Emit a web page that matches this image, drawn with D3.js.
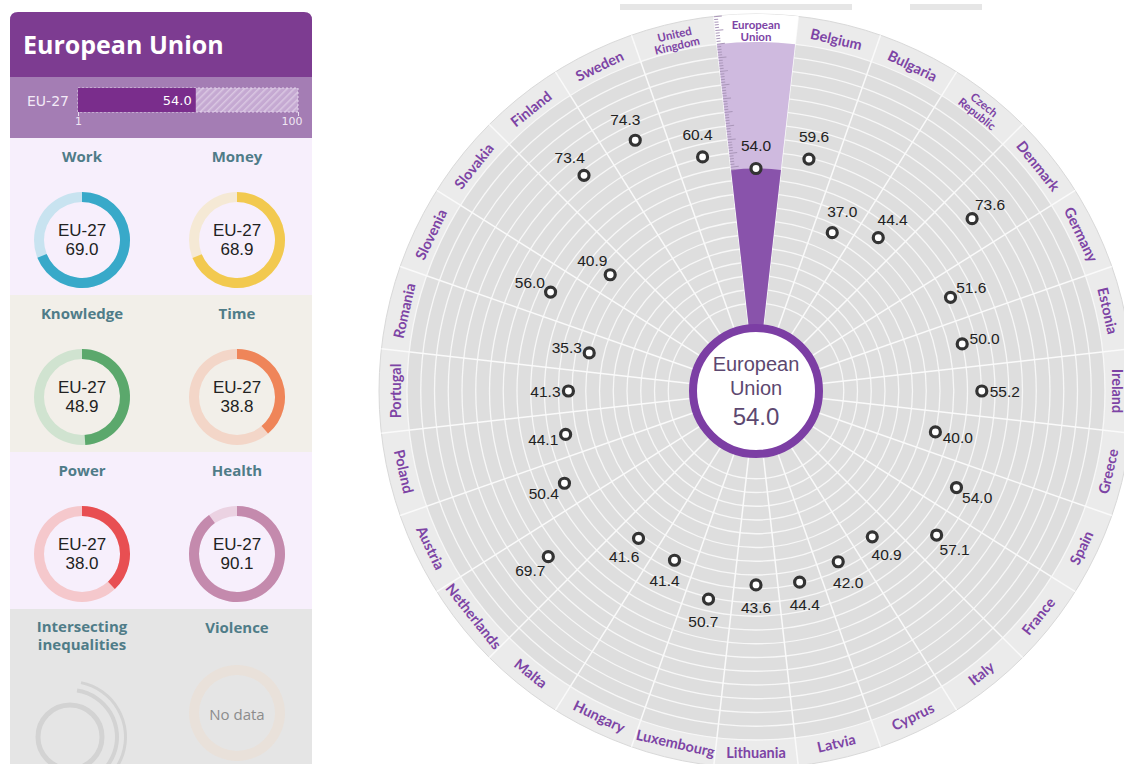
<!DOCTYPE html>
<html>
<head>
<meta charset="utf-8">
<script src="https://cdn.jsdelivr.net/npm/d3@7"></script>
<style>
  body { margin: 0; background: #fff; }
  svg { display: block; font-family: 'Liberation Sans', Arial, sans-serif; }
</style>
</head>
<body>
<svg id="chart" width="1124" height="764"></svg>
<script>
// ------------------- Data -------------------
const countries = ['European Union', 'Belgium', 'Bulgaria', 'Czech Republic', 'Denmark', 'Germany',
  'Estonia', 'Ireland', 'Greece', 'Spain', 'France', 'Italy', 'Cyprus', 'Latvia', 'Lithuania',
  'Luxembourg', 'Hungary', 'Malta', 'Netherlands', 'Austria', 'Poland', 'Portugal', 'Romania',
  'Slovenia', 'Slovakia', 'Finland', 'Sweden', 'United Kingdom'];
const countryScores = [54.0, 59.6, 37.0, 44.4, 73.6, 51.6, 50.0, 55.2, 40.0, 54.0, 57.1, 40.9, 42.0,
  44.4, 43.6, 50.7, 41.4, 41.6, 69.7, 50.4, 44.1, 41.3, 35.3, 56.0, 40.9, 73.4, 74.3, 60.4];

const domainNames = ['Work', 'Money', 'Knowledge', 'Time', 'Power', 'Health'];
const domainScores = [69.0, 68.9, 48.9, 38.8, 38.0, 90.1];
const emptyDomains = ['Intersecting inequalities', 'Violence'];

const indexTicks = [1, 100];
const aggregateLabel = 'EU-27';

// colours: [strong, pale]
const domainColors = [
  ['#38a9c9', '#c8e3f0'], ['#f2c94f', '#f5e9d5'], ['#5ba86c', '#d0e3d0'],
  ['#ef8559', '#f3d6c8'], ['#e84f52', '#f5c8cc'], ['#c48aad', '#ebd2e2']
];
const sectionFills = ['#f7effc', '#f2efe9', '#f7effc', '#e5e5e5'];

const svg = d3.select('#chart');

// ------------------- Left panel -------------------
function renderPanel() {
  const px = 10, pw = 302;
  const g = svg.append('g');

  const defs = svg.append('defs');
  const pat = defs.append('pattern')
    .attr('id', 'hatch').attr('width', 5).attr('height', 5)
    .attr('patternUnits', 'userSpaceOnUse').attr('patternTransform', 'rotate(45)');
  pat.append('rect').attr('width', 5).attr('height', 5).attr('fill', '#c5a9d2');
  pat.append('line').attr('x1', 0).attr('y1', 0).attr('x2', 0).attr('y2', 5)
    .attr('stroke', '#dac7e2').attr('stroke-width', 3);

  // header with rounded top corners
  g.append('path')
    .attr('d', `M${px},77 V20 Q${px},12 ${px + 8},12 H${px + pw - 8} Q${px + pw},12 ${px + pw},20 V77 Z`)
    .attr('fill', '#7d3c91');
  g.append('text').attr('x', 23).attr('y', 54)
    .attr('fill', '#fff').attr('font-family', "'Open Sans', sans-serif")
    .attr('font-weight', 700).attr('font-size', 25)
    .text(countries[0]);

  g.append('rect').attr('x', px).attr('y', 77).attr('width', pw).attr('height', 61).attr('fill', '#a47db4');
  g.append('text').attr('x', 27).attr('y', 106)
    .attr('fill', '#f3eaf7').attr('font-family', "'DejaVu Sans', sans-serif").attr('font-size', 14)
    .text(aggregateLabel);

  const xBar = d3.scaleLinear().domain(indexTicks).range([78, 298]);
  g.append('rect').attr('x', xBar(1)).attr('y', 88).attr('width', xBar(100) - xBar(1)).attr('height', 24)
    .attr('fill', 'url(#hatch)').attr('stroke', '#e4d5ec').attr('stroke-dasharray', '2,2');
  g.append('rect').attr('x', xBar(1)).attr('y', 88).attr('width', xBar(countryScores[0]) - xBar(1)).attr('height', 24)
    .attr('fill', '#7a2d8c');
  g.append('text').attr('x', xBar(countryScores[0]) - 4).attr('y', 105)
    .attr('text-anchor', 'end').attr('fill', '#fff')
    .attr('font-family', "'DejaVu Sans', sans-serif").attr('font-size', 13)
    .text(countryScores[0].toFixed(1));

  const axis = g.append('g').attr('transform', 'translate(0,112)')
    .call(d3.axisBottom(xBar).tickValues(indexTicks).tickSize(4).tickSizeOuter(0));
  axis.select('.domain').remove();
  axis.selectAll('line').attr('stroke', '#e8dcef');
  axis.selectAll('text').attr('fill', '#efe6f3').attr('font-size', 11)
    .attr('font-family', "'DejaVu Sans', sans-serif")
    .attr('dy', '0.5em');
  axis.select('.tick:last-of-type text').attr('text-anchor', 'end').attr('dx', '4');

  // section backgrounds
  sectionFills.forEach((c, i) => {
    g.append('rect').attr('x', px).attr('y', 138 + i * 157).attr('width', pw).attr('height', 157).attr('fill', c);
  });

  const colX = [82, 237];
  const arc = d3.arc().innerRadius(38).outerRadius(48);

  domainNames.forEach((name, i) => {
    const cxD = colX[i % 2];
    const top = 138 + Math.floor(i / 2) * 157;
    const cyD = top + 102;
    g.append('text').attr('x', cxD).attr('y', top + 24)
      .attr('text-anchor', 'middle').attr('fill', '#4f7c88')
      .attr('font-family', "'Open Sans', sans-serif").attr('font-weight', 700).attr('font-size', 15)
      .text(name);
    const dg = g.append('g').attr('transform', `translate(${cxD},${cyD})`);
    dg.append('path').attr('d', arc({ startAngle: 0, endAngle: 2 * Math.PI })).attr('fill', domainColors[i][1]);
    dg.append('path').attr('d', arc({ startAngle: 0, endAngle: domainScores[i] / 100 * 2 * Math.PI }))
      .attr('fill', domainColors[i][0]);
    dg.append('text').attr('y', -4).attr('text-anchor', 'middle').attr('fill', '#222').attr('font-size', 17)
      .text(aggregateLabel);
    dg.append('text').attr('y', 15).attr('text-anchor', 'middle').attr('fill', '#222').attr('font-size', 17)
      .text(domainScores[i].toFixed(1));
  });

  // empty domains
  const top4 = 138 + 3 * 157;
  ['Intersecting', 'inequalities'].forEach((w, k) => {
    g.append('text').attr('x', 82).attr('y', top4 + 23 + k * 18)
      .attr('text-anchor', 'middle').attr('fill', '#4f7c88')
      .attr('font-family', "'Open Sans', sans-serif").attr('font-weight', 700).attr('font-size', 15)
      .text(w);
  });
  g.append('text').attr('x', 237).attr('y', top4 + 24)
    .attr('text-anchor', 'middle').attr('fill', '#4f7c88')
    .attr('font-family', "'Open Sans', sans-serif").attr('font-weight', 700).attr('font-size', 15)
    .text(emptyDomains[1]);

  const ig = g.append('g').attr('transform', `translate(70,${top4 + 128})`);
  ig.append('circle').attr('r', 32).attr('fill', 'none').attr('stroke', '#d3d3d3').attr('stroke-width', 5);
  ig.append('path').attr('d', d3.arc().innerRadius(45).outerRadius(49)({ startAngle: 0.15, endAngle: 3.7 })).attr('fill', '#d3d3d3');
  ig.append('path').attr('d', d3.arc().innerRadius(54).outerRadius(57)({ startAngle: 0.2, endAngle: 3.6 })).attr('fill', '#d3d3d3');

  const vg = g.append('g').attr('transform', `translate(237,${top4 + 104})`);
  vg.append('path').attr('d', arc({ startAngle: 0, endAngle: 2 * Math.PI })).attr('fill', '#e9e1da');
  vg.append('text').attr('y', 7).attr('text-anchor', 'middle').attr('fill', '#8c8c8c')
    .attr('font-family', "'Open Sans', sans-serif").attr('font-size', 15).text('No data');
}

// ------------------- Radial chart -------------------
function renderRadial() {
  const cx = 756, cy = 391;
  const n = countries.length;
  const rInner = 66, rGrid = 349, rOuter = 377, rLabel = 361;
  const rScale = d3.scaleLinear().domain([0, 100]).range([74, rGrid]);
  const angle = d3.scaleLinear().domain([0, n]).range([0, 2 * Math.PI]);
  const half = angle(0.5);

  // top strip remnants
  svg.append('rect').attr('x', 620).attr('y', 4).attr('width', 232).attr('height', 6).attr('fill', '#e6e6e6');
  svg.append('rect').attr('x', 910).attr('y', 4).attr('width', 72).attr('height', 6).attr('fill', '#e6e6e6');

  const g = svg.append('g').attr('transform', `translate(${cx},${cy})`);

  g.append('circle').attr('r', rOuter).attr('fill', '#ebebeb').attr('stroke', '#d9d9d9');
  g.append('circle').attr('r', rGrid).attr('fill', '#dedede');

  // grid rings
  g.append('g').selectAll('circle')
    .data(d3.range(5, 101, 5))
    .join('circle')
    .attr('r', d => rScale(d))
    .attr('fill', 'none')
    .attr('stroke', '#f7f7f7')
    .attr('stroke-width', 1.3);

  // spokes
  g.append('g').selectAll('line')
    .data(d3.range(n))
    .join('line')
    .attr('x1', d => rInner * Math.sin(angle(d) - half))
    .attr('y1', d => -rInner * Math.cos(angle(d) - half))
    .attr('x2', d => rOuter * Math.sin(angle(d) - half))
    .attr('y2', d => -rOuter * Math.cos(angle(d) - half))
    .attr('stroke', '#fafafa')
    .attr('stroke-width', 1.5);

  // EU slice
  const eu = { startAngle: -half, endAngle: half };
  g.append('path').attr('d', d3.arc().innerRadius(rGrid).outerRadius(rOuter)(eu)).attr('fill', '#fff');
  g.append('path').attr('d', d3.arc().innerRadius(rInner).outerRadius(rGrid)(eu)).attr('fill', '#cfbadf');
  g.append('path').attr('d', d3.arc().innerRadius(rInner).outerRadius(rScale(countryScores[0]))(eu)).attr('fill', '#8953ab');

  // ruler ticks on the EU slice edge
  g.append('g').selectAll('line')
    .data(d3.range(Math.ceil(countryScores[0]), 111, 1))
    .join('line')
    .attr('transform', `rotate(${-half * 180 / Math.PI})`)
    .attr('x1', 0)
    .attr('x2', d => d % 5 === 0 ? 8 : 4)
    .attr('y1', d => -rScale(d))
    .attr('y2', d => -rScale(d))
    .attr('stroke', '#a996b8')
    .attr('stroke-width', 1);

  // centre
  g.append('circle').attr('r', 63).attr('fill', '#fff').attr('stroke', '#7c3ea4').attr('stroke-width', 8);
  const ct = g.append('g').attr('fill', '#5d4870').attr('text-anchor', 'middle');
  ct.append('text').attr('y', -20).attr('font-size', 20).text('European');
  ct.append('text').attr('y', 4).attr('font-size', 20).text('Union');
  ct.append('text').attr('y', 34).attr('font-size', 24).text(countryScores[0].toFixed(1));

  // country labels
  const lab = g.append('g')
    .attr('fill', '#7d44a5')
    .attr('font-family', "'Lato', sans-serif")
    .attr('font-weight', 700)
    .attr('text-anchor', 'middle');
  countries.forEach((name, i) => {
    const deg = angle(i) * 180 / Math.PI;
    const top = deg <= 90 || deg >= 270;
    const rot = top ? deg : deg - 180;
    const words = name.split(' ');
    const t = lab.append('text')
      .attr('transform', `rotate(${rot}) translate(0,${top ? -rLabel : rLabel})`)
      .attr('dominant-baseline', 'central');
    if (words.length > 1) {
      t.attr('font-size', 11.5);
      t.selectAll('tspan').data(words).join('tspan')
        .attr('x', 0).attr('dy', (d, k) => k ? '1.0em' : '-0.5em').text(d => d);
    } else {
      t.attr('font-size', 14.5).text(name);
    }
  });

  // points
  const pts = countryScores.map((v, i) => ({ v, a: angle(i) }));
  g.append('g').selectAll('circle')
    .data(pts)
    .join('circle')
    .attr('cx', d => rScale(d.v) * Math.sin(d.a))
    .attr('cy', d => -rScale(d.v) * Math.cos(d.a))
    .attr('r', 5)
    .attr('fill', '#fff')
    .attr('stroke', '#333')
    .attr('stroke-width', 3.2);

  g.append('g').selectAll('text')
    .data(pts)
    .join('text')
    .attr('x', d => (rScale(d.v) + 23) * Math.sin(d.a))
    .attr('y', d => -(rScale(d.v) + 23) * Math.cos(d.a))
    .attr('text-anchor', 'middle')
    .attr('dominant-baseline', 'central')
    .attr('font-size', 15.5)
    .attr('fill', '#222')
    .text(d => d.v.toFixed(1));
}

renderRadial();
renderPanel();
</script>
</body>
</html>
